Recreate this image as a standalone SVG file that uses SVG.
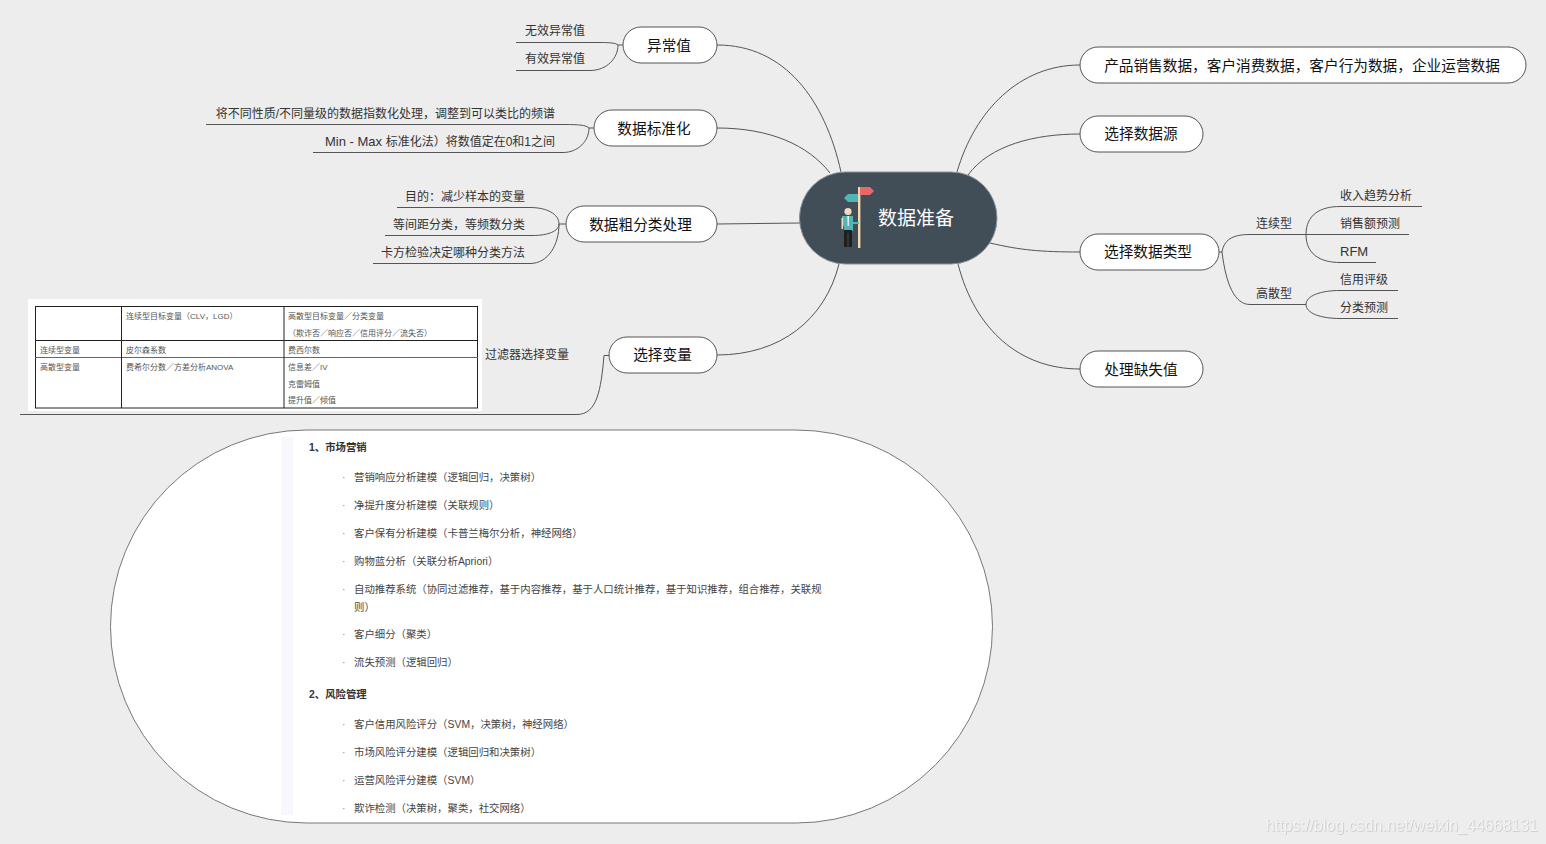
<svg xmlns="http://www.w3.org/2000/svg" width="1546" height="844" viewBox="0 0 1546 844">
<style>
text{font-family:"Liberation Sans","Noto Sans CJK SC",sans-serif;fill:#222}
.n{fill:#fff;stroke:#555;stroke-width:1}
.nt{font-size:14.67px;text-anchor:middle;fill:#111}
.l{font-size:12px;fill:#333}
.e{text-anchor:end}
.t{font-size:8px;fill:#555}
.b{font-size:10.4px;fill:#444}
.d{font-size:10.4px;fill:#888}
.h{font-size:10.4px;font-weight:700;fill:#333}
#connectors path{fill:none;stroke:#555;stroke-width:1}
.g line{stroke:#222;stroke-width:1}
</style>
<defs><filter id="ws" x="-5%" y="-20%" width="110%" height="140%"><feDropShadow dx="0.6" dy="0.6" stdDeviation="0.4" flood-color="#bbb"/></filter></defs>
<rect width="1546" height="844" fill="#ededed"/>
<g id="connectors">
<path d="M717 45C785 45 825 100 841 172"/>
<path d="M717 128C770 128 808 145 830 173"/>
<path d="M717 224L800 223"/>
<path d="M717 355C780 355 825 320 839 264"/>
<path d="M1080 65C1020 65 975 110 957 172"/>
<path d="M1080 134C1035 134 990 145 968 175"/>
<path d="M1080 252C1040 252 1020 250 990 243"/>
<path d="M1080 369C1020 369 975 330 958 264"/>
<path d="M623 45H618M516 42.500H600C610 42.500 616 43 618 45C618 58 607 70.500 590 70.500H516"/>
<path d="M594 128H589M206 124.500H565C578 124.500 586 125 589 128C589 141 578 152.500 563 152.500H313"/>
<path d="M566 224H559M397 207.500H530C547 207.500 559 214 559 224C559 231 548 235.500 533 235.500H385M559 224C559 245 548 263.500 530 263.500H373"/>
<path d="M609 355.500H604C601 390 597 414.500 577 414.500H20"/>
<path d="M1219 252H1222C1224 240 1232 234.500 1250 234.500H1409M1222 252C1226 285 1235 304.500 1250 304.500H1306"/>
<path d="M1306 234.500C1306 215 1320 206.500 1340 206.500H1422M1306 234.500C1306 254 1320 262.500 1340 262.500H1376"/>
<path d="M1306 304.500C1306 296 1320 290.500 1340 290.500H1398M1306 304.500C1306 313 1320 318.500 1340 318.500H1398"/>
</g>
<g id="center">
<rect x="799.500" y="172" width="197.500" height="92" rx="46" fill="#414d57" stroke="#8a9299"/>
<rect x="858" y="187" width="2.400" height="61" fill="#f5d9ae"/>
<path d="M860 187H870L874 191L870 195H860Z" fill="#e8686c"/>
<path d="M858 194H848L844 198L848 202H858Z" fill="#4fb5b8"/>
<circle cx="848" cy="211.500" r="3.600" fill="#f5d9c0"/>
<path d="M842 216H853V222H859V224H853V231H844V226H842Z" fill="#4fb5b8"/>
<rect x="841.500" y="218" width="1.600" height="11" fill="#f5d9c0"/>
<path d="M847.300 216H849L848.800 226H847.600Z" fill="#e8f4f4"/>
<path d="M844 230H852V247H848.500V233H847.500V247H844Z" fill="#1f1f1f"/>
<text x="916" y="225" text-anchor="middle" font-size="19" style="fill:#fff">数据准备</text>
</g>
<g id="n-outlier"><rect class="n" x="623" y="27" width="94" height="36" rx="18"/><text class="nt" x="669" y="50.500">异常值</text></g>
<g id="n-standard"><rect class="n" x="594" y="110" width="123" height="36" rx="18"/><text class="nt" x="654" y="133.500">数据标准化</text></g>
<g id="n-binning"><rect class="n" x="566" y="206" width="151" height="36" rx="18"/><text class="nt" x="640.500" y="229.500">数据粗分类处理</text></g>
<g id="n-select"><rect class="n" x="609" y="337" width="108" height="36" rx="18"/><text class="nt" x="662.500" y="360">选择变量</text></g>
<g id="n-products"><rect class="n" x="1080" y="47" width="446" height="36" rx="18"/><text class="nt" x="1302" y="70.500">产品销售数据，客户消费数据，客户行为数据，企业运营数据</text></g>
<g id="n-source"><rect class="n" x="1080" y="116" width="123" height="36" rx="18"/><text class="nt" x="1141" y="139">选择数据源</text></g>
<g id="n-type"><rect class="n" x="1080" y="234" width="139" height="36" rx="18"/><text class="nt" x="1148" y="257">选择数据类型</text></g>
<g id="n-missing"><rect class="n" x="1080" y="351" width="123" height="36" rx="18"/><text class="nt" x="1141" y="375">处理缺失值</text></g>
<g id="leaves">
<text class="l e" x="585" y="35">无效异常值</text>
<text class="l e" x="585" y="63">有效异常值</text>
<text class="l e" x="555" y="118">将不同性质/不同量级的数据指数化处理，调整到可以类比的频谱</text>
<text class="l e" x="555" y="146"><tspan font-size="13">Min - Max </tspan>标准化法）将数值定在0和1之间</text>
<text class="l e" x="525" y="201">目的：减少样本的变量</text>
<text class="l e" x="525" y="229">等间距分类，等频数分类</text>
<text class="l e" x="525" y="257">卡方检验决定哪种分类方法</text>
<text class="l e" x="569" y="359">过滤器选择变量</text>
<text class="l" x="1256" y="228">连续型</text>
<text class="l" x="1256" y="298">高散型</text>
<text class="l" x="1340" y="200">收入趋势分析</text>
<text class="l" x="1340" y="228">销售额预测</text>
<text class="l" x="1340" y="256" font-size="13" style="font-size:13px">RFM</text>
<text class="l" x="1340" y="284">信用评级</text>
<text class="l" x="1340" y="312">分类预测</text>
</g>
<g id="table" class="g">
<rect x="28" y="299" width="454" height="112" fill="#fff"/>
<rect x="35.500" y="306.500" width="442" height="101.500" fill="#fff" stroke="#222"/>
<line x1="35" y1="340.500" x2="478" y2="340.500"/>
<line x1="35" y1="357.500" x2="478" y2="357.500" style="stroke:#666"/>
<line x1="121.500" y1="306" x2="121.500" y2="408"/>
<line x1="284" y1="306" x2="284" y2="408"/>
<text class="t" x="126" y="319">连续型目标变量（CLV，LGD）</text>
<text class="t" x="288" y="319">高散型目标变量／分类变量</text>
<text class="t" x="288" y="336">（欺诈否／响应否／信用评分／流失否）</text>
<text class="t" x="40" y="353">连续型变量</text>
<text class="t" x="126" y="353">皮尔森系数</text>
<text class="t" x="288" y="353">费西尔数</text>
<text class="t" x="40" y="370">高散型变量</text>
<text class="t" x="126" y="370">费希尔分数／方差分析ANOVA</text>
<text class="t" x="288" y="370">信息差／IV</text>
<text class="t" x="288" y="387">克雷姆值</text>
<text class="t" x="288" y="403">提升值／倾值</text>
</g>
<g id="n-body">
<rect x="110.500" y="430" width="882" height="393" rx="196.500" fill="#fff" stroke="#777"/>
<rect x="281" y="437" width="12" height="378" fill="#f7f8fd"/>
<text class="h" x="309" y="450.500">1、市场营销</text>
<text class="d" x="342" y="481">·</text><text class="b" x="354" y="481">营销响应分析建模（逻辑回归，决策树）</text>
<text class="d" x="342" y="509">·</text><text class="b" x="354" y="509">净提升度分析建模（关联规则）</text>
<text class="d" x="342" y="537">·</text><text class="b" x="354" y="537">客户保有分析建模（卡普兰梅尔分析，神经网络）</text>
<text class="d" x="342" y="564.500">·</text><text class="b" x="354" y="564.500">购物蓝分析（关联分析Apriori）</text>
<text class="d" x="342" y="592.500">·</text><text class="b" x="354" y="592.500">自动推荐系统（协同过滤推荐，基于内容推荐，基于人口统计推荐，基于知识推荐，组合推荐，关联规</text>
<text class="b" x="354" y="610.500">则）</text>
<text class="d" x="342" y="638">·</text><text class="b" x="354" y="638">客户细分（聚类）</text>
<text class="d" x="342" y="666">·</text><text class="b" x="354" y="666">流失预测（逻辑回归）</text>
<text class="h" x="309" y="697.500">2、风险管理</text>
<text class="d" x="342" y="728">·</text><text class="b" x="354" y="728">客户信用风险评分（SVM，决策树，神经网络）</text>
<text class="d" x="342" y="756">·</text><text class="b" x="354" y="756">市场风险评分建模（逻辑回归和决策树）</text>
<text class="d" x="342" y="783.500">·</text><text class="b" x="354" y="783.500">运营风险评分建模（SVM）</text>
<text class="d" x="342" y="811.500">·</text><text class="b" x="354" y="811.500">欺诈检测（决策树，聚类，社交网络）</text>
</g>
<text x="1538" y="831" text-anchor="end" font-size="16" filter="url(#ws)" style="fill:#f4f4f4">https://blog.csdn.net/weixin_44668131</text>
</svg>
